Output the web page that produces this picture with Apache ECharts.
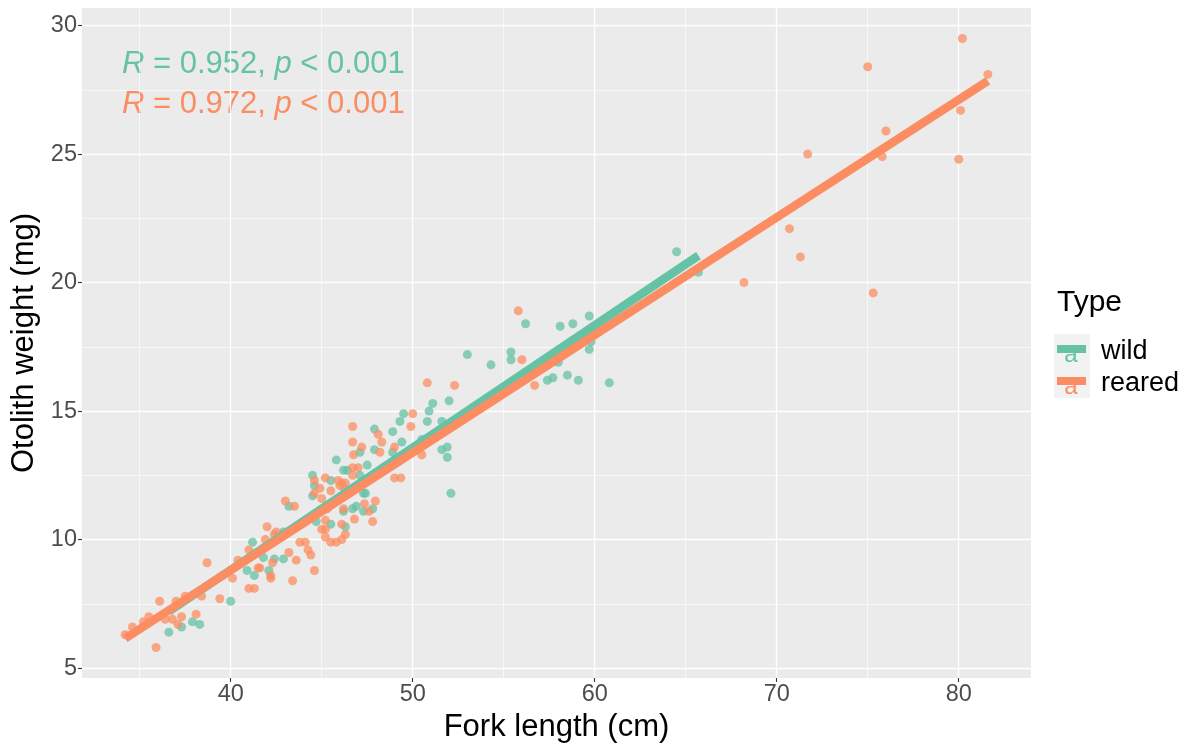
<!DOCTYPE html>
<html>
<head>
<meta charset="utf-8">
<script src="https://cdn.jsdelivr.net/npm/echarts@6/dist/echarts.min.js"></script>
<style>html,body{margin:0;padding:0;background:#fff;}#c{width:1186px;height:744px;}</style>
</head>
<body>
<div id="c"></div>
<script>
// ---- data ----
const wildPoints = [
[36.6,6.4],[37.3,6.6],[37.9,6.8],[38.3,6.7],[40.0,7.6],[40.9,8.8],[41.3,8.6],[41.2,9.9],[41.8,9.3],[42.1,8.8],[42.4,9.25],[42.9,9.25],[42.9,10.3],[43.2,11.3],
[44.5,12.5],[44.6,12.1],[44.5,11.7],[44.7,10.7],[45.5,12.3],[45.5,10.6],[45.8,13.1],[46.2,12.7],[46.4,12.7],[47.1,12.5],[47.5,12.9],[47.1,13.4],[47.9,13.5],[47.9,14.3],[48.9,14.2],[48.9,13.4],[49.3,14.6],[49.5,14.9],[49.4,13.8],
[47.3,11.8],[47.4,11.8],[46.7,11.2],[46.9,11.3],[47.3,11.1],[47.8,11.2],[46.2,11.1],[46.3,10.5],
[50.5,13.9],[50.8,14.6],[50.9,15.0],[51.1,15.3],[51.6,14.6],[52.0,15.4],[51.6,13.5],[51.9,13.6],[51.9,13.2],[52.1,11.8],
[53.0,17.2],[54.3,16.8],[55.4,17.3],[55.4,17.0],[56.2,18.4],[58.1,18.3],[58.8,18.4],[59.7,18.7],[59.7,17.4],[59.8,17.7],[58.0,16.9],[57.4,16.2],[57.7,16.3],[58.5,16.4],[59.1,16.2],[60.8,16.1],[64.5,21.2],[65.7,20.4]
];
const rearedPoints = [
[34.2,6.3],[34.6,6.6],[35.2,6.8],[35.5,7.0],[35.9,5.8],[36.1,7.6],[36.4,6.9],[36.8,6.9],[37.0,7.6],[37.1,6.7],[37.3,7.0],[37.5,7.8],[38.1,7.1],[38.4,7.8],[38.7,9.1],[39.4,7.7],[40.1,8.5],[40.4,9.2],[41.0,8.1],[41.3,8.1],[41.0,9.6],[41.5,8.9],[41.6,8.9],[42.0,10.5],[41.9,10.0],[42.2,8.6],[42.2,8.5],[42.3,9.1],[42.4,10.2],[42.5,10.3],[43.0,11.5],[43.5,11.3],[43.2,9.5],[43.6,9.2],[43.4,8.4],[43.8,9.9],[44.1,9.9],[44.25,9.6],[44.4,9.4],[44.6,8.8],
[44.6,12.3],[44.9,12.0],[44.6,11.8],[45.2,12.4],[45.5,11.9],[45.0,11.6],[45.9,12.3],[46.1,12.2],[46.3,12.2],[46.0,12.1],[46.25,12.0],[45.3,11.2],[45.2,10.75],[46.2,11.2],[46.1,10.6],[45.0,10.4],[45.2,10.4],[45.2,10.1],[46.3,10.2],[46.1,10.0],[45.5,9.9],[45.8,9.9],
[46.7,14.4],[46.7,13.8],[47.2,13.6],[48.3,13.8],[48.1,14.1],[46.75,13.3],[48.2,13.4],[46.7,12.8],[47.0,12.8],[46.7,12.5],[48.0,12.6],[49.0,12.4],[49.35,12.4],[47.35,11.4],[47.95,11.5],[47.6,11.1],[46.8,10.8],[47.8,10.7],[49.0,13.6],[49.9,14.4],[50.0,14.9],[50.5,13.3],[50.8,16.1],[52.3,16.0],[55.8,18.9],[56.0,17.0],[56.7,16.0],
[68.2,20.0],[70.7,22.1],[71.3,21.0],[71.7,25.0],[75.0,28.4],[75.3,19.6],[75.8,24.9],[76.0,25.9],[80.0,24.8],[80.1,26.7],[80.2,29.5],[81.6,28.1]
];
const wildFit = [[36.6,7.2],[65.7,21.05]];
const rearedFit = [[34.2,6.15],[81.6,27.85]];
const xTicks = [40,50,60,70,80];
const yTicks = [5,10,15,20,25,30];
const groups = ['wild','reared'];
const corLabels = ['0.952','0.972'];
const colors = ['#66C2A5','#FC8D62'];

const FONT = '"Liberation Sans", Arial, sans-serif';
const xMin = 34.2 - (81.6-34.2)*0.05, xMax = 81.6 + (81.6-34.2)*0.05;
const yMin = 5.8 - (29.5-5.8)*0.05, yMax = 29.5 + (29.5-5.8)*0.05;

const chart = echarts.init(document.getElementById('c'), null, {renderer:'canvas'});
function axisCommon(ticks){
  return {
    axisLine:{show:false},
    axisTick:{show:true, length:4, lineStyle:{color:'#333333', width:1.1}, customValues:ticks},
    axisLabel:{color:'#4D4D4D', fontSize:23.5, fontFamily:FONT, customValues:ticks, margin:5},
    splitLine:{show:true, lineStyle:{color:'#FFFFFF', width:1.3}},
    minorTick:{show:false, splitNumber:2},
    minorSplitLine:{show:true, lineStyle:{color:'#FFFFFF', width:0.6}},
    nameLocation:'middle',
    nameTextStyle:{color:'#000000', fontSize:31, fontFamily:FONT}
  };
}
const keyTop = 334, keyH = 32;
const graphics = [
  {type:'text', left:1057, top:288, style:{text:'Type', fontSize:30, fontFamily:FONT, fill:'#000'}},
  {type:'rect', shape:{x:1054, y:keyTop, width:36, height:keyH*2}, style:{fill:'#F2F2F2'}}
];
groups.forEach((g,i)=>{
  const cy = keyTop + keyH*i + 16;
  graphics.push({type:'text', x:1071, y:cy+5, style:{text:'a', fontSize:24, fontFamily:FONT, fill:colors[i], align:'center', verticalAlign:'middle'}});
  graphics.push({type:'line', shape:{x1:1057, y1:cy-1, x2:1086, y2:cy-1}, style:{stroke:colors[i], lineWidth:8}});
  graphics.push({type:'text', x:1101, y:cy+2, style:{text:g, fontSize:27, fontFamily:FONT, fill:'#000', verticalAlign:'middle'}});
  graphics.push({type:'text', x:122, y:64 + 40*i, style:{
    text:'{i|R} = ' + corLabels[i] + ', {i|p} < 0.001', fontSize:31, fontFamily:FONT, fill:colors[i], verticalAlign:'middle',
    rich:{i:{fontStyle:'italic', fontSize:31, fontFamily:FONT, fill:colors[i]}}
  }});
});

const option = {
  animation:false,
  backgroundColor:'#FFFFFF',
  grid:{left:82, right:155, top:8, bottom:66, outerBoundsMode:'none', containLabel:false, show:true, backgroundColor:'#EBEBEB', borderWidth:0},
  xAxis:Object.assign(axisCommon(xTicks), {type:'value', min:xMin, max:xMax, splitNumber:5, name:'Fork length (cm)', nameGap:29}),
  yAxis:Object.assign(axisCommon(yTicks), {type:'value', min:yMin, max:yMax, splitNumber:5, name:'Otolith weight (mg)', nameGap:40}),
  series:[
    {name:'wild', type:'scatter', data:wildPoints, symbolSize:9, itemStyle:{color:colors[0], opacity:0.75}, z:2},
    {name:'reared', type:'scatter', data:rearedPoints, symbolSize:9, itemStyle:{color:colors[1], opacity:0.75}, z:2},
    {name:'wild fit', type:'line', data:wildFit, showSymbol:false, symbol:'none', lineStyle:{color:colors[0], width:8.5, cap:'butt'}, z:3},
    {name:'reared fit', type:'line', data:rearedFit, showSymbol:false, symbol:'none', lineStyle:{color:colors[1], width:8.5, cap:'butt'}, z:3}
  ],
  graphic:graphics
};
chart.setOption(option);
</script>
</body>
</html>
